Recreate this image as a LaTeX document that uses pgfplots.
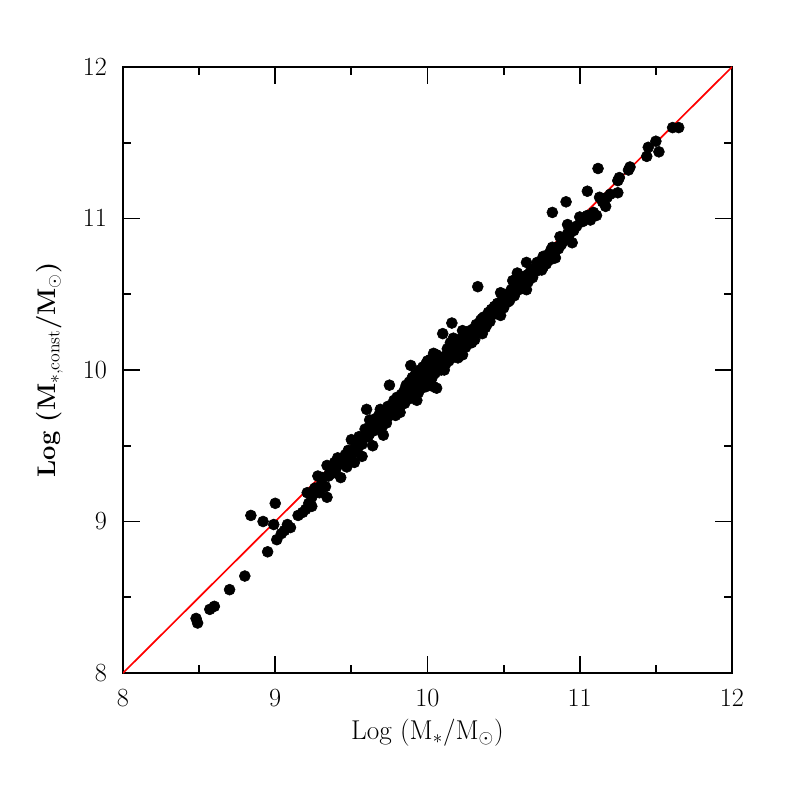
\documentclass[border=0pt]{standalone}
\usepackage{pgfplots}
\pgfplotsset{compat=1.18}
\begin{document}
\begin{tikzpicture}
\begin{axis}[
  scale only axis,
  width=152.25mm, height=151.5mm,
  xmin=8, xmax=12, ymin=8, ymax=12,
  xtick={8,9,10,11,12}, ytick={8,9,10,11,12},
  minor xtick={8.5,9.5,10.5,11.5}, minor ytick={8.5,9.5,10.5,11.5},
  tick align=inside,
  major tick length=4.2mm, minor tick length=2mm,
  axis line style={line width=1.3pt},
  every tick/.append style={black, line width=1.3pt},
  tick label style={font=\LARGE, scale=1.08},
  xticklabel style={yshift=-2.6mm},
  yticklabel style={xshift=-2.5mm},
  xlabel style={font=\LARGE, scale=1.12, yshift=-0.5mm},
  ylabel style={font=\LARGE\bfseries, scale=1.05, yshift=2.3mm},
  xlabel={Log (M$_*$/M$_\odot$)},
  ylabel={Log (M$_{*,\mathrm{const}}$/M$_\odot$)},
]
\addplot[red, line width=1.2pt] coordinates {(8,8) (12,12)};
\addplot[only marks, mark=*, mark size=3.9pt, black] coordinates {
(8.48,8.36) (8.49,8.33) (8.57,8.42) (8.60,8.44) (8.70,8.55) (8.80,8.64)
(8.84,9.04) (8.92,9.00) (8.95,8.80) (8.99,8.98) (9.00,9.12) (9.01,8.88)
(9.04,8.92) (9.06,8.94) (9.08,8.98) (9.10,8.96) (9.15,9.04) (9.18,9.06)
(9.20,9.08) (9.21,9.19) (9.22,9.12) (9.24,9.16) (9.24,9.10) (9.26,9.22)
(9.28,9.30) (9.29,9.19) (9.30,9.24) (9.31,9.29) (9.33,9.23) (9.34,9.37)
(9.34,9.16) (9.35,9.30) (9.36,9.33) (9.38,9.32) (9.39,9.39) (9.40,9.35)
(9.41,9.42) (9.43,9.29) (9.44,9.40) (9.45,9.38) (9.46,9.44) (9.47,9.36)
(9.48,9.47) (9.49,9.42) (9.50,9.54) (9.51,9.45) (9.52,9.39) (9.53,9.50)
(9.54,9.48) (9.55,9.56) (9.56,9.52) (9.57,9.43) (9.58,9.55) (9.59,9.61)
(9.60,9.60) (9.60,9.74) (9.61,9.56) (9.62,9.67) (9.63,9.62) (9.64,9.50)
(9.65,9.60) (9.66,9.68) (9.67,9.64) (9.68,9.70) (9.69,9.74) (9.70,9.62)
(9.71,9.57) (9.71,9.68) (9.72,9.73) (9.73,9.65) (9.74,9.76) (9.75,9.90)
(9.75,9.70) (9.76,9.72) (9.77,9.74) (9.78,9.80) (9.79,9.70) (9.80,9.82)
(9.80,9.77) (9.81,9.75) (9.82,9.76) (9.83,9.84) (9.84,9.80) (9.85,9.87)
(9.85,9.78) (9.86,9.90) (9.87,9.89) (9.87,9.83) (9.88,9.92) (9.89,10.03)
(9.89,9.86) (9.90,9.95) (9.90,9.84) (9.91,9.88) (9.92,9.97) (9.93,9.80)
(9.93,9.93) (9.94,9.90) (9.95,9.95) (9.95,10.00) (9.96,9.88) (9.96,9.93)
(9.97,9.98) (9.97,10.02) (9.98,9.92) (9.98,9.96) (9.99,10.04) (9.99,9.89)
(10.00,9.98) (10.00,9.94) (10.01,10.02) (10.01,9.97) (10.02,10.07) (10.02,9.93)
(10.03,10.00) (10.04,10.11) (10.04,9.89) (10.05,10.03) (10.05,9.98) (10.06,10.10)
(10.06,9.88) (10.07,10.05) (10.08,10.02) (10.08,10.08) (10.09,10.00) (10.10,10.24)
(10.10,10.06) (10.11,10.09) (10.12,10.04) (10.13,10.09) (10.13,10.14) (10.14,10.10)
(10.15,10.18) (10.15,10.12) (10.16,10.31) (10.16,10.08) (10.17,10.15) (10.18,10.13)
(10.19,10.18) (10.19,10.10) (10.20,10.16) (10.21,10.20) (10.22,10.14) (10.23,10.10)
(10.23,10.26) (10.24,10.19) (10.25,10.22) (10.26,10.24) (10.26,10.17) (10.27,10.23)
(10.28,10.26) (10.29,10.18) (10.30,10.27) (10.31,10.25) (10.32,10.30) (10.33,10.55)
(10.33,10.28) (10.34,10.31) (10.35,10.33) (10.36,10.24) (10.36,10.34) (10.37,10.35)
(10.38,10.32) (10.39,10.30) (10.40,10.38) (10.41,10.36) (10.42,10.40) (10.43,10.37)
(10.44,10.42) (10.45,10.40) (10.46,10.44) (10.47,10.39) (10.48,10.36) (10.48,10.51)
(10.49,10.46) (10.50,10.47) (10.51,10.44) (10.52,10.50) (10.53,10.48) (10.54,10.46)
(10.55,10.53) (10.56,10.59) (10.56,10.50) (10.57,10.55) (10.58,10.52) (10.59,10.64)
(10.59,10.56) (10.60,10.58) (10.61,10.55) (10.62,10.60) (10.63,10.59) (10.64,10.62)
(10.65,10.71) (10.65,10.53) (10.66,10.63) (10.67,10.60) (10.68,10.66) (10.69,10.61)
(10.70,10.67) (10.71,10.65) (10.72,10.71) (10.73,10.68) (10.74,10.70) (10.75,10.72)
(10.76,10.68) (10.76,10.75) (10.77,10.73) (10.78,10.70) (10.79,10.76) (10.80,10.74)
(10.81,10.79) (10.82,10.75) (10.82,10.81) (10.82,11.04) (10.83,10.77) (10.84,10.74)
(10.85,10.81) (10.86,10.80) (10.87,10.88) (10.88,10.83) (10.89,10.85) (10.90,10.87)
(10.91,11.11) (10.92,10.96) (10.92,10.90) (10.93,10.89) (10.95,10.84) (10.96,10.92)
(10.98,10.95) (11.00,11.01) (11.02,10.98) (11.05,11.18) (11.05,11.02) (11.07,10.99)
(11.09,11.04) (11.11,11.02) (11.12,11.33) (11.13,11.14) (11.15,11.11) (11.17,11.08)
(11.18,11.14) (11.20,11.16) (11.25,11.17) (11.25,11.25) (11.26,11.27) (11.32,11.32)
(11.33,11.34) (11.44,11.41) (11.45,11.47) (11.50,11.51) (11.52,11.44) (11.61,11.60)
(11.65,11.60)
(9.88,9.81) (9.91,9.93) (9.94,9.85) (9.97,9.90) (10.00,10.06) (10.03,9.95)
(10.06,10.01) (10.09,10.07) (10.11,10.00) (10.14,10.06) (10.17,10.21) (10.20,10.08)
(10.22,10.19) (10.25,10.15) (10.28,10.21) (10.31,10.20) (10.34,10.26) (10.38,10.28)
(10.41,10.32) (10.44,10.37) (10.47,10.43) (10.50,10.41) (10.53,10.45) (10.57,10.49)
(10.60,10.53) (10.63,10.56) (10.66,10.58) (10.69,10.64) (10.72,10.66) (10.75,10.66)
(10.78,10.74) (10.81,10.73) (10.84,10.79) (10.87,10.82) (9.82,9.72) (9.78,9.76)
(9.74,9.69) (9.68,9.63) (9.62,9.58) (9.57,9.51)
};
\end{axis}
\path (-30.75mm,-31mm) rectangle (168.5mm,168.25mm);
\end{tikzpicture}
\end{document}
